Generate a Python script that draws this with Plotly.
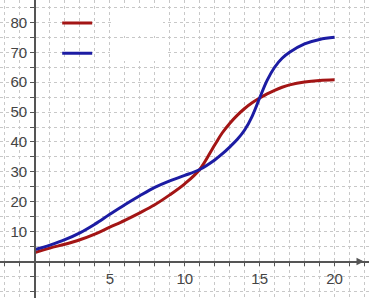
import plotly.graph_objects as go

x_vals = [0, 1, 2, 3, 4, 5, 6, 7, 8, 9, 10, 11, 12, 12.5, 13, 13.5, 14, 14.5, 15, 15.5, 16, 16.5, 17, 18, 19, 20]
red_vals = [3, 4.5, 5.8, 7.3, 9.2, 11.5, 13.8, 16.3, 19, 22.3, 26, 30.8, 39.0, 43.0, 46.2, 48.9, 51.2, 53.1, 54.7, 56.1, 57.3, 58.3, 59.1, 60.1, 60.6, 60.8]
blue_vals = [4, 5.5, 7.3, 9.6, 12.5, 15.8, 19, 22, 24.8, 27, 28.8, 30.8, 34, 36, 38.3, 40.8, 44, 48.6, 54.7, 60.6, 65.0, 68.0, 70.0, 72.8, 74.3, 75]
x_ticks = [5, 10, 15, 20]
y_ticks = [10, 20, 30, 40, 50, 60, 70, 80]

XR = [-2.33, 22.3]
YR = [-12.2, 87.5]

fig = go.Figure()
fig.add_trace(go.Scatter(x=x_vals, y=red_vals, mode="lines", name=" ",
                         line=dict(color="#a31515", width=3, shape="spline", smoothing=1),
                         legendgroup="a"))
fig.add_trace(go.Scatter(x=x_vals, y=blue_vals, mode="lines", name=" ",
                         line=dict(color="#1c1ca3", width=3, shape="spline", smoothing=1),
                         legendgroup="b"))

fig.update_layout(
    width=369, height=298,
    margin=dict(l=0, r=0, t=0, b=0),
    paper_bgcolor="white", plot_bgcolor="white",
    font=dict(family="Liberation Sans, Arial", size=15, color="#444"),
    showlegend=True,
    legend=dict(x=0.155, y=0.975, xanchor="left", yanchor="top",
                bgcolor="rgba(0,0,0,0)", tracegroupgap=9,
                font=dict(size=14), traceorder="grouped"),
    xaxis=dict(range=XR, tickvals=x_ticks, showgrid=True, gridcolor="#c8c8c8",
               griddash="dot", zeroline=False, showline=True, linecolor="#555",
               linewidth=1.5, anchor="free", position=(0 - YR[0]) / (YR[1] - YR[0]),
               ticks="outside", ticklen=4, tickcolor="#555",
               minor=dict(dtick=1, tick0=0, showgrid=True, gridcolor="#c8c8c8",
                          griddash="dot", ticks="outside", ticklen=4, tickcolor="#555"),
               fixedrange=True),
    yaxis=dict(range=YR, tickvals=y_ticks, showgrid=True, gridcolor="#c8c8c8",
               griddash="dot", zeroline=False, showline=True, linecolor="#555",
               linewidth=1.5, anchor="free", position=(0 - XR[0]) / (XR[1] - XR[0]),
               ticks="outside", ticklen=4, tickcolor="#555",
               minor=dict(dtick=5, tick0=0, showgrid=True, gridcolor="#c8c8c8",
                          griddash="dot", ticks="outside", ticklen=4, tickcolor="#555"),
               fixedrange=True),
)

# erased legend label boxes
fig.add_shape(type="rect", xref="paper", yref="paper",
              x0=112/369, x1=163/369, y0=1-35/298, y1=1-8/298,
              fillcolor="white", line=dict(width=0), layer="above")
fig.add_shape(type="rect", xref="paper", yref="paper",
              x0=110/369, x1=165/369, y0=1-61/298, y1=1-38/298,
              fillcolor="white", line=dict(width=0), layer="above")

# arrow at end of x axis
fig.add_annotation(x=1-5/369, y=(0 - YR[0]) / (YR[1] - YR[0]), xref="paper", yref="paper",
                   ax=-8, ay=0, showarrow=True, arrowhead=2, arrowsize=1,
                   arrowwidth=1.5, arrowcolor="#555", text="")

fig.write_html("out.html")
